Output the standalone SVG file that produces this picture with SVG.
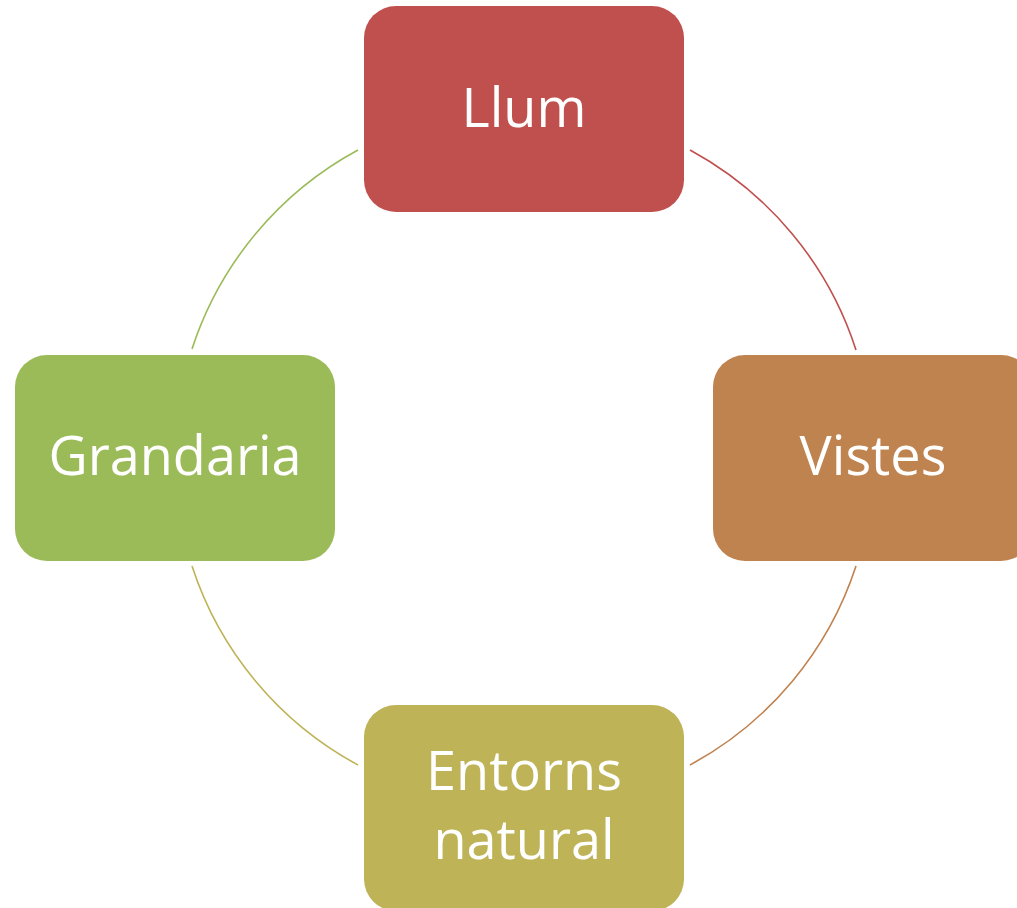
<svg xmlns="http://www.w3.org/2000/svg" width="1017" height="908" viewBox="0 0 1017 908">
<style>
.box{stroke:none}
.lbl{font-family:"Open Sans","Noto Sans","DejaVu Sans",sans-serif;font-size:54px;fill:#ffffff;text-anchor:middle}
.arc{fill:none;stroke-width:1.6}
</style>
<rect width="1017" height="908" fill="#ffffff"/>
<g id="connectors">
<path class="arc" stroke="#C0504D" d="M690,150 A349,349 0 0 1 856,350"/>
<path class="arc" stroke="#C0824F" d="M856,566 A349,349 0 0 1 690,765"/>
<path class="arc" stroke="#BEB356" d="M358,765 A349,349 0 0 1 192,566"/>
<path class="arc" stroke="#9BBB59" d="M192,349 A349,349 0 0 1 358,150"/>
</g>
<g id="llum">
<rect class="box" x="364" y="6" width="320" height="206" rx="32" fill="#C0504D"/>
<text class="lbl" x="524" y="127">Llum</text>
</g>
<g id="vistes">
<rect class="box" x="713" y="355" width="320" height="206" rx="32" fill="#BF8350"/>
<text class="lbl" x="873" y="475">Vistes</text>
</g>
<g id="entorns">
<rect class="box" x="364" y="705" width="320" height="206" rx="32" fill="#BEB356"/>
<text class="lbl" x="524" y="790">Entorns</text>
<text class="lbl" x="524" y="859">natural</text>
</g>
<g id="grandaria">
<rect class="box" x="15" y="355" width="320" height="206" rx="32" fill="#9BBB59"/>
<text class="lbl" x="175" y="475">Grandaria</text>
</g>
</svg>
